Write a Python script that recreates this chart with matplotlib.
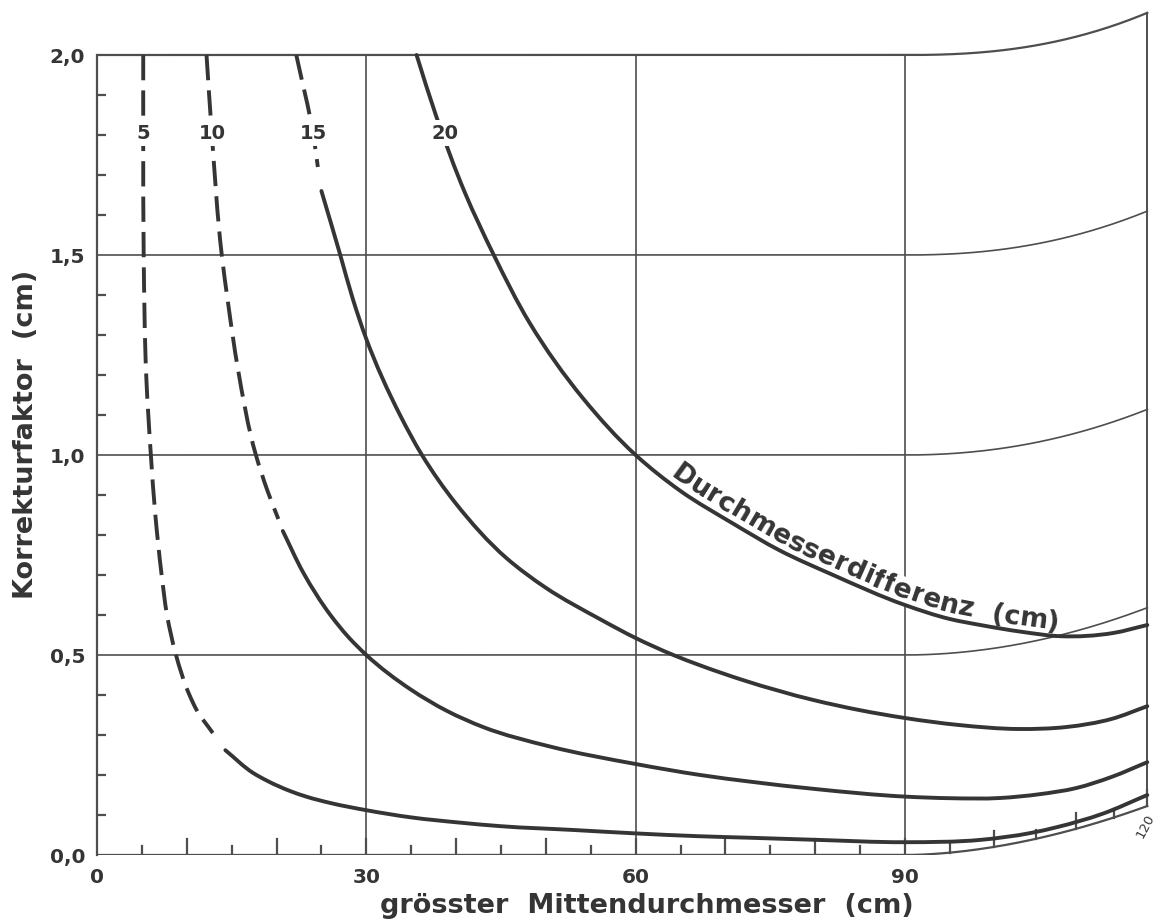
import numpy as np
import matplotlib
matplotlib.use("Agg")
import matplotlib.pyplot as plt
from matplotlib.path import Path
from matplotlib.patches import PathPatch

# Korrekturfaktor vs. groesster Mittendurchmesser, one curve per Durchmesserdifferenz
diff_labels = ["5", "10", "15", "20"]

x_d5 = [5.15, 5.15, 5.2, 5.5, 6.0, 6.5, 7.2, 7.8, 8.8, 10.3, 11.1, 12.9,
        14.3, 17.4, 19.0, 21.5, 23.3, 26.0, 30.0, 35.0, 40.4, 45.0, 53.1, 60.0,
        67.0, 72.9, 80.0, 90.0, 98.5, 104.0, 107.0, 112.0, 117.0]
y_d5 = [2.0, 1.8, 1.5, 1.19, 1.0, 0.85, 0.70, 0.60, 0.50, 0.40, 0.3625, 0.305,
        0.262, 0.205, 0.185, 0.160, 0.146, 0.130, 0.112, 0.094, 0.081, 0.072, 0.0625, 0.054,
        0.047, 0.043, 0.038, 0.032, 0.038, 0.055, 0.07, 0.103, 0.15]

x_d10 = [12.2, 12.8, 13.9, 14.6, 15.7, 17.7, 19.0, 20.2, 20.7, 23.0, 26.0, 28.0,
         30.0, 35.0, 39.0, 43.0, 50.5, 60.0, 67.2, 72.9, 80.0, 90.0, 95.0, 100.6,
         105.0, 109.1, 113.0, 117.0]
y_d10 = [2.0, 1.8, 1.5, 1.38, 1.215, 1.0, 0.91, 0.84, 0.81, 0.705, 0.60, 0.545,
         0.50, 0.413, 0.36, 0.32, 0.271, 0.2275, 0.20, 0.183, 0.165, 0.146, 0.142, 0.1425,
         0.152, 0.1675, 0.195, 0.232]

x_d15 = [22.2, 24.1, 24.6, 25.0, 27.1, 28.5, 30.0, 33.8, 36.2, 40.0, 45.6, 50.0,
         56.0, 60.0, 64.2, 67.2, 72.0, 79.8, 85.0, 90.0, 96.0, 102.7, 108.0, 113.0, 117.0]
y_d15 = [2.0, 1.8, 1.72, 1.66, 1.5, 1.39, 1.29, 1.098, 1.0, 0.878, 0.7425, 0.668,
         0.59, 0.5425, 0.50, 0.474, 0.437, 0.3875, 0.362, 0.3425, 0.325, 0.315, 0.32, 0.34, 0.372]

x_d20 = [35.6, 37.8, 41.0, 44.2, 48.2, 54.2, 60.0, 65.0, 70.9, 76.0, 82.0, 90.0,
         95.0, 98.4, 103.0, 107.3, 113.2, 117.0]
y_d20 = [2.0, 1.846, 1.655, 1.5, 1.33, 1.14, 1.0, 0.91, 0.828, 0.762, 0.70, 0.625,
         0.59, 0.575, 0.558, 0.547, 0.555, 0.575]

curves_x = [x_d5, x_d10, x_d15, x_d20]
curves_y = [y_d5, y_d10, y_d15, y_d20]
dash_until = [13.5, 20.45, 24.8, 0.0]   # left of this the curve is dashed

y_ticks = [0.0, 0.5, 1.0, 1.5, 2.0]
x_ticks = [0, 30, 60, 90]
curve_title = "Durchmesserdifferenz  (cm)"
xlabel = "grösster  Mittendurchmesser  (cm)"
ylabel = "Korrekturfaktor  (cm)"

INK = "#353535"
GRID = "#4e4e4e"
FONT = "DejaVu Sans"

X_EDGE = 117.0     # right border of the (curled) sheet
X_CURL = 90.0


def rise(x, y):
    # the scanned page curls up to the right of x=90
    t = np.clip((np.asarray(x, float) - X_CURL) / (X_EDGE - X_CURL), 0, 1)
    return (0.1225 - 0.0085 * y) * t ** (1.8 + 0.3 * y)


def squeeze(x):
    # horizontal foreshortening of the curled part (120 lands at 117)
    t = np.clip((np.asarray(x, float) - X_CURL) / 30.0, 0, 1)
    return x - 3.0 * t ** 3


def smooth_path(xs, ys, sx=9.0, sy=400.0):
    # cubic bezier through the read points, Bessel tangents in ~pixel units
    P = np.column_stack([np.asarray(xs, float) * sx, np.asarray(ys, float) * sy])
    D = np.diff(P, axis=0)
    h = np.linalg.norm(D, axis=1)
    T = np.zeros_like(P)
    T[0] = D[0] / h[0]
    T[-1] = D[-1] / h[-1]
    for i in range(1, len(P) - 1):
        T[i] = (h[i] * D[i - 1] / h[i - 1] + h[i - 1] * D[i] / h[i]) / (h[i - 1] + h[i])
    verts = [P[0]]
    codes = [Path.MOVETO]
    for i in range(len(P) - 1):
        verts += [P[i] + T[i] * h[i] / 3, P[i + 1] - T[i + 1] * h[i] / 3, P[i + 1]]
        codes += [Path.CURVE4] * 3
    return Path(np.array(verts) / [sx, sy], codes)


fig = plt.figure(figsize=(11.6, 9.23), dpi=100)
ax = fig.add_axes([97 / 1160, 68 / 923, 118 * 8.977 / 1160, 2.12 * 400 / 923])
ax.set_xlim(0, 118)
ax.set_ylim(0, 2.12)
for side in ["top", "right", "bottom"]:
    ax.spines[side].set_visible(False)
ax.spines["left"].set_bounds(0, 2.0)
ax.spines["left"].set_linewidth(1.6)
ax.spines["left"].set_color(GRID)

# frame and grid, bent where the page curls
xs = np.linspace(0, X_EDGE, 400)
for gy in y_ticks[1:]:
    ax.plot(xs, gy + rise(xs, gy), color=GRID, lw=1.6 if gy == 2.0 else 1.2, zorder=1)
ax.plot(xs, rise(xs, 0.0), color=GRID, lw=1.6, zorder=1)
ax.plot([X_EDGE, X_EDGE], [rise(X_EDGE, 0.0), 2.0 + rise(X_EDGE, 2.0)], color=GRID, lw=1.4, zorder=1)
ax.vlines(x_ticks[1:], 0, 2.0, color=GRID, lw=1.2, zorder=1)

# x ticks every 5 cm, pointing inwards
for xt in np.arange(5, 121, 5):
    xd = squeeze(xt)
    y0 = rise(xd, 0.0)
    ln = 0.04 if xt % 10 == 0 else 0.0225
    ax.plot([xd, xd], [y0, y0 + ln], color=GRID, lw=1.6, zorder=1)

ax.set_xticks(x_ticks, [str(v) for v in x_ticks])
ax.tick_params(axis="x", length=0, pad=9.5, labelsize=14.5)
ax.set_yticks(y_ticks, [f"{v:.1f}".replace(".", ",") for v in y_ticks])
ax.set_yticks(np.arange(0.1, 2.0, 0.1), minor=True)
ax.tick_params(axis="y", which="major", length=0, pad=8.5, labelsize=14.5)
ax.tick_params(axis="y", which="minor", direction="in", length=6.7, width=1.6, color=GRID)
for lab in ax.get_xticklabels() + ax.get_yticklabels():
    lab.set_fontweight("bold")
    lab.set_family(FONT)
    lab.set_color(INK)

# the curves
for cx, cy, split in zip(curves_x, curves_y, dash_until):
    cx = np.array(cx)
    cy = np.array(cy)
    dashed = cx < split
    if dashed.any():
        ax.add_patch(PathPatch(smooth_path(cx[dashed], cy[dashed]), fill=False, ec=INK,
                               lw=2.8, ls=(0, (6.5, 2.6)), zorder=3))
    ax.add_patch(PathPatch(smooth_path(cx[~dashed], cy[~dashed]), fill=False, ec=INK,
                           lw=2.8, capstyle="round", zorder=3))

label_x = [5.16, 12.8, 24.1, 38.8]
for lx, lab in zip(label_x, diff_labels):
    ax.text(lx, 1.805, lab, ha="center", va="center", fontsize=14, fontweight="bold",
            family=FONT, color=INK, zorder=4,
            bbox=dict(fc="white", ec="none", pad=2.5))

# curve title written along the 20 cm curve
renderer = fig.canvas.get_renderer()
pts = smooth_path(x_d20, y_d20).to_polygons(transform=ax.transData, closed_only=False)[0]
seg = np.hypot(np.diff(pts[:, 0]), np.diff(pts[:, 1]))
arc = np.concatenate([[0], np.cumsum(seg)])
text_kw = dict(fontsize=19.5, fontweight="bold", family=FONT, color=INK)


def width_of(ch):
    a = ax.text(0, 0, "x" + ch + "x", **text_kw)
    b = ax.text(0, 0, "xx", **text_kw)
    w = a.get_window_extent(renderer).width - b.get_window_extent(renderer).width
    a.remove()
    b.remove()
    return w


def point_at(s):
    return np.array([np.interp(s, arc, pts[:, 0]), np.interp(s, arc, pts[:, 1])])


s = np.interp(ax.transData.transform((63.4, 0))[0], pts[:, 0], arc)
for ch in curve_title:
    w = width_of(ch)
    p0, p1 = point_at(s), point_at(s + w)
    ang = np.arctan2(p1[1] - p0[1], p1[0] - p0[0])
    mid = point_at(s + w / 2) + 6.0 * np.array([-np.sin(ang), np.cos(ang)])
    if ch.strip():
        dx, dy = ax.transData.inverted().transform(mid)
        ax.text(dx, dy, ch, rotation=np.degrees(ang), rotation_mode="anchor",
                ha="center", va="baseline", zorder=2.5,
                bbox=dict(fc="white", ec="none", pad=0.5), **text_kw)
    s += w

ax.text(116.8, 0.072, "120", rotation=62, ha="center", va="center",
        fontsize=9.5, family=FONT, color=INK, clip_on=False)

ax.text(61.2, -0.145, xlabel, ha="center", va="baseline", fontsize=19.5, fontweight="bold",
        family=FONT, color=INK, clip_on=False)
ax.text(-7.13, 1.0525, ylabel, ha="center", va="baseline", rotation=90, rotation_mode="anchor",
        fontsize=19.5, fontweight="bold", family=FONT, color=INK, clip_on=False)

fig.savefig("out.png", dpi=100, facecolor="white")
